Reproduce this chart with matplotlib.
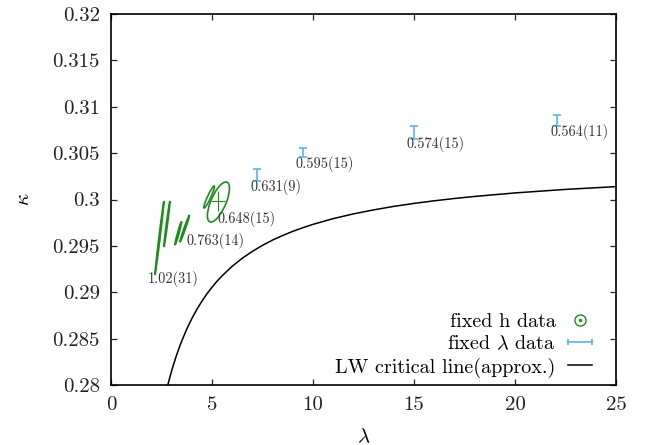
import numpy as np
import matplotlib
matplotlib.use("Agg")
import matplotlib.pyplot as plt
from matplotlib.patches import Ellipse
from matplotlib.transforms import Affine2D
from matplotlib.lines import Line2D
from matplotlib.legend_handler import HandlerLine2D
from matplotlib.ticker import FuncFormatter, MultipleLocator

plt.rcParams["font.family"] = "cmr10"
plt.rcParams["mathtext.fontset"] = "cm"
plt.rcParams["axes.formatter.use_mathtext"] = True

# =========================================================
# Data
# =========================================================

# fixed lambda data (error bars)
lam_fix = [7.25, 9.5, 15.0, 22.1]
kap_fix = [0.30264, 0.30507, 0.30720, 0.30852]
kap_err = [0.00065, 0.00049, 0.00072, 0.00058]
lab_fix = ["0.631(9)", "0.595(15)", "0.574(15)", "0.564(11)"]

# fixed h data: ellipses given by centre, long semi-diameter (dlam, dkap)
# and horizontal half-width (wlam)
ell_lam = [2.40, 2.77, 3.33, 3.65, 4.86, 5.32]
ell_kap = [0.29585, 0.29736, 0.29636, 0.29687, 0.30027, 0.29973]
ell_dlam = [0.223, 0.149, 0.161, 0.235, 0.248, 0.371]
ell_dkap = [0.00399, 0.00248, 0.00127, 0.00146, 0.00119, 0.00216]
ell_wlam = [0.03, 0.03, 0.04, 0.04, 0.09, 0.40]

# central point of the large ellipse with its errors
cross_lam = [5.30]
cross_kap = [0.29984]
cross_lerr = [0.33]
cross_kerr = [0.00113]

lab_h = ["1.02(31)", "0.763(14)", "0.648(15)"]
lab_h_lam = [1.83, 3.76, 5.25]
lab_h_kap = [0.29143, 0.29553, 0.29790]

# LW critical line (approx.)
lw_lam = [2.7, 2.8, 2.9, 3.0, 3.1, 3.25, 3.4, 3.5, 3.75, 4.0, 4.25, 4.5,
          4.75, 5.0, 5.25, 5.5, 6.0, 6.5, 7.0, 7.5, 8.0, 8.5, 9.0, 9.5,
          10.0, 11.0, 12.0, 13.0, 14.0, 15.0, 16.0, 17.0, 18.0, 20.0,
          22.5, 25.0]
lw_kap = [0.27899, 0.27989, 0.28072, 0.28150, 0.28223, 0.28324, 0.28416,
          0.28473, 0.28602, 0.28715, 0.28815, 0.28903, 0.28983, 0.29054,
          0.29119, 0.29177, 0.29280, 0.29367, 0.29441, 0.29506, 0.29563,
          0.29612, 0.29657, 0.29696, 0.29732, 0.29794, 0.29845, 0.29888,
          0.29926, 0.29958, 0.29986, 0.30011, 0.30033, 0.30071, 0.30109,
          0.30139]

GREEN = "#1e8c1e"
BLUE = "#56b4e9"

# =========================================================
# Figure
# =========================================================

fig = plt.figure(figsize=(6.49, 4.45), dpi=100)
ax = fig.add_axes([0.1710, 0.1348, 0.7781, 0.8337])

ax.set_xlim(0, 25)
ax.set_ylim(0.28, 0.32)

# ellipses
for lc, kc, dl, dk, wl in zip(ell_lam, ell_kap, ell_dlam, ell_dkap, ell_wlam):
    tr = Affine2D.from_values(dl, dk, wl, 0.0, lc, kc) + ax.transData
    e = Ellipse((0, 0), 2, 2, fill=False, edgecolor=GREEN,
                linewidth=1.2, transform=tr)
    ax.add_patch(e)

ax.errorbar(cross_lam, cross_kap, xerr=cross_lerr, yerr=cross_kerr,
            fmt="none", ecolor=GREEN, elinewidth=0.8, capsize=0)

for t, x, y in zip(lab_h, lab_h_lam, lab_h_kap):
    ax.text(x, y, t, fontsize=10.3, ha="left", va="center", color="#333333")

# fixed lambda
ax.errorbar(lam_fix, kap_fix, yerr=kap_err, fmt="none", ecolor=BLUE,
            elinewidth=1.2, capsize=3, capthick=1.2)

for t, x, y in zip(lab_fix, lam_fix, kap_fix):
    ax.annotate(t, (x, y), xytext=(-7, -11.5), textcoords="offset pixels",
                fontsize=10.3, ha="left", va="center", color="#333333")

# LW line
ax.plot(lw_lam, lw_kap, color="black", linewidth=1.1)

# =========================================================
# Axes styling
# =========================================================

ax.xaxis.set_major_locator(MultipleLocator(5))
ax.yaxis.set_major_locator(MultipleLocator(0.005))
ax.yaxis.set_major_formatter(FuncFormatter(lambda v, p: f"{v:g}"))
ax.xaxis.set_major_formatter(FuncFormatter(lambda v, p: f"{v:g}"))

ax.tick_params(direction="in", length=4.5, width=0.9, labelsize=15,
               top=True, right=True, pad=8, colors="#222222")
for sp in ax.spines.values():
    sp.set_linewidth(1.2)

ax.set_xlabel(r"$\lambda$", fontsize=15, labelpad=10)
ax.set_ylabel(r"$\kappa$", fontsize=15, labelpad=14)

# =========================================================
# Legend
# =========================================================

h_fixh = (Line2D([], [], marker="o", mfc="none", mec=GREEN, ls="none",
                 ms=8, mew=1.0),
          Line2D([], [], marker="o", color=GREEN, ls="none", ms=1.5))
h_fixl = Line2D([], [], color=BLUE, marker="|", ms=5, lw=1.2, mew=1.2)
h_lw = Line2D([], [], color="black", lw=1.1)

ax.legend([h_fixh, h_fixl, h_lw],
          ["fixed h data", r"fixed $\lambda$ data", "LW critical line(approx.)"],
          handler_map={h_fixl: HandlerLine2D(numpoints=2, marker_pad=0)},
          loc="lower right", bbox_to_anchor=(0.952, 0.02),
          frameon=False, markerfirst=False, fontsize=14.5,
          handlelength=1.2, handletextpad=0.6, labelspacing=0.2,
          borderpad=0, borderaxespad=0)

fig.savefig("out.png", dpi=100)
